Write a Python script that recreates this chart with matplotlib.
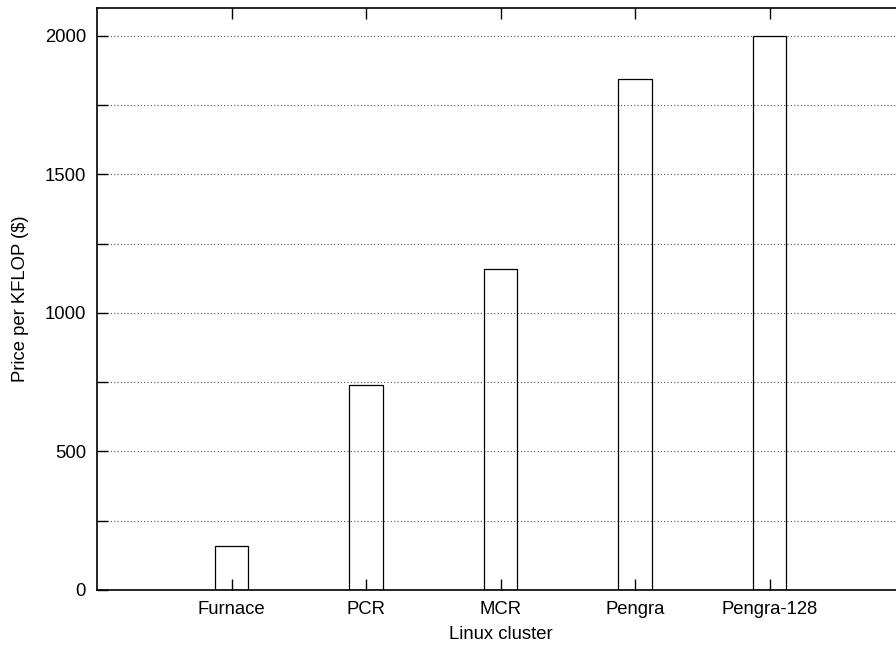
import matplotlib.pyplot as plt
import numpy as np

plt.rcParams['font.family'] = ['Liberation Sans', 'DejaVu Sans']

# data
clusters = ['Furnace', 'PCR', 'MCR', 'Pengra', 'Pengra-128']
price = [158, 740, 1158, 1844, 1998]

fig = plt.figure(figsize=(8.96, 6.47), dpi=100)
# axes runs slightly past the right edge like the cropped original
ax = fig.add_axes([97 / 896, 57 / 647, 807 / 896, 582 / 647])

x = np.arange(1, len(clusters) + 1)
ax.bar(x, price, width=0.25, fill=False, edgecolor='black', linewidth=0.9, zorder=3)

ax.set_xlim(0, 6)
ax.set_ylim(0, 2100)
ax.set_xticks(x)
ax.set_xticklabels(clusters)
ax.set_yticks([0, 500, 1000, 1500, 2000])
ax.set_yticks(np.arange(250, 2100, 500), minor=True)

ax.grid(axis='y', which='both', linestyle=(0, (1, 2)), color='#555555', linewidth=0.8, zorder=1)
ax.tick_params(axis='both', which='both', direction='in', length=8, width=1, labelsize=13.3,
               top=True, right=False, pad=8)

for s in ax.spines.values():
    s.set_linewidth(1.2)

ax.set_xlabel('Linux cluster', fontsize=13.3, labelpad=6)
ax.set_ylabel('Price per KFLOP ($)', fontsize=13.3, labelpad=11)

fig.savefig('out.png', dpi=100)
